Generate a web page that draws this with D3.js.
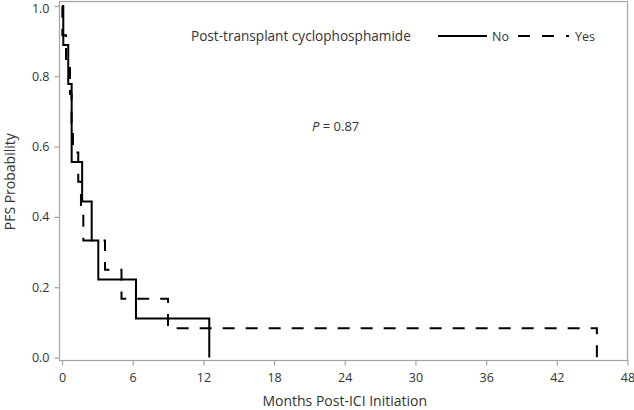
<!DOCTYPE html>
<html>
<head>
<meta charset="utf-8">
<script src="https://cdn.jsdelivr.net/npm/d3@7"></script>
<style>
  html, body { margin: 0; padding: 0; background: #fff; }
  svg { display: block; }
  text { font-family: "Open Sans", "Noto Sans", sans-serif; fill: #333; }
</style>
</head>
<body>
<svg id="chart" width="634" height="410"></svg>
<script>
// ---- data ----
const xTicks = [0, 6, 12, 18, 24, 30, 36, 42, 48];
const yTicks = [0.0, 0.2, 0.4, 0.6, 0.8, 1.0];
const noTimes = [0, 0.11, 0.53, 0.82, 1.71, 2.52, 3.08, 6.28, 12.5];
const noSurv  = [1.0, 0.889, 0.778, 0.556, 0.444, 0.333, 0.222, 0.111, 0.0];
const yesTimes = [0, 0.03, 0.34, 0.68, 0.81, 0.93, 1.38, 1.61, 1.81, 3.65, 5.05, 9.0, 45.4];
const yesSurv  = [1.0, 0.917, 0.833, 0.75, 0.667, 0.583, 0.5, 0.417, 0.333, 0.25, 0.167, 0.083, 0.0];
const legendTitle = "Post-transplant cyclophosphamide";
const groupLabels = ["No", "Yes"];
const pText = "0.87";
const xTitle = "Months Post-ICI Initiation";
const yTitle = "PFS Probability";

// ---- layout ----
const svg = d3.select("#chart");
const frame = {left: 59.5, right: 627.5, top: 1.5, bottom: 360.5};
const x = d3.scaleLinear().domain([0, 48]).range([62, 627.5]);
const y = d3.scaleLinear().domain([0, 1]).range([357.5, 6]);
const gray = "#a3a3a3";

// frame
svg.append("rect")
  .attr("x", frame.left).attr("y", frame.top)
  .attr("width", frame.right - frame.left).attr("height", frame.bottom - frame.top)
  .attr("fill", "none").attr("stroke", gray).attr("stroke-width", 1.2);

// x axis
const xAxis = d3.axisBottom(x).tickValues(xTicks).tickFormat(d3.format("d")).tickSize(5).tickPadding(8);
const gx = svg.append("g").attr("transform", `translate(0,${frame.bottom})`).call(xAxis);
gx.select(".domain").remove();
gx.selectAll(".tick line").attr("stroke", gray).attr("stroke-width", 1.2);
gx.selectAll(".tick text").attr("font-size", 12.5).attr("fill", "#333")
  .style("font-family", '"Open Sans", sans-serif');

// y axis
const yAxis = d3.axisLeft(y).tickValues(yTicks).tickFormat(d3.format(".1f")).tickSize(5).tickPadding(5);
const gy = svg.append("g").attr("transform", `translate(${frame.left},0)`).call(yAxis);
gy.select(".domain").remove();
gy.selectAll(".tick line").attr("stroke", gray).attr("stroke-width", 1.2);
gy.selectAll(".tick text").attr("font-size", 12.5).attr("fill", "#333")
  .style("font-family", '"Open Sans", sans-serif');
gy.selectAll(".tick text").filter(d => d === 1).attr("dy", "0.55em");

// axis titles
svg.append("text").attr("x", x(24)).attr("y", 406).attr("text-anchor", "middle")
  .attr("font-size", 14).text(xTitle);
svg.append("text").attr("transform", `translate(15,${y(0.5)}) rotate(-90)`)
  .attr("text-anchor", "middle").attr("font-size", 14).text(yTitle);

// curves
const line = d3.line().curve(d3.curveStepAfter).x(d => x(d[0])).y(d => y(d[1]));
const yesData = yesTimes.map((t, i) => [t, yesSurv[i]]);
const noData = noTimes.map((t, i) => [t, noSurv[i]]);

svg.append("path").datum(yesData).attr("d", line)
  .attr("fill", "none").attr("stroke", "#000").attr("stroke-width", 2)
  .attr("stroke-dasharray", "12,11");
svg.append("path").datum(noData).attr("d", line)
  .attr("fill", "none").attr("stroke", "#000").attr("stroke-width", 2);

// legend
const ly = 36;
svg.append("text").attr("x", 191).attr("y", ly + 5).attr("font-size", 13.6)
  .attr("fill", "#111").text(legendTitle);
svg.append("line").attr("x1", 438).attr("x2", 487).attr("y1", ly).attr("y2", ly)
  .attr("stroke", "#000").attr("stroke-width", 2);
svg.append("text").attr("x", 492).attr("y", ly + 4.5).attr("font-size", 12.5).text(groupLabels[0]);
svg.append("line").attr("x1", 518).attr("x2", 569).attr("y1", ly).attr("y2", ly)
  .attr("stroke", "#000").attr("stroke-width", 2).attr("stroke-dasharray", "12,12");
svg.append("text").attr("x", 575).attr("y", ly + 4.5).attr("font-size", 12.5).text(groupLabels[1]);

// p-value
const pt = svg.append("text").attr("x", 312).attr("y", 131).attr("font-size", 13);
pt.append("tspan").attr("font-style", "italic").text("P");
pt.append("tspan").text(" = " + pText);
</script>
</body>
</html>
